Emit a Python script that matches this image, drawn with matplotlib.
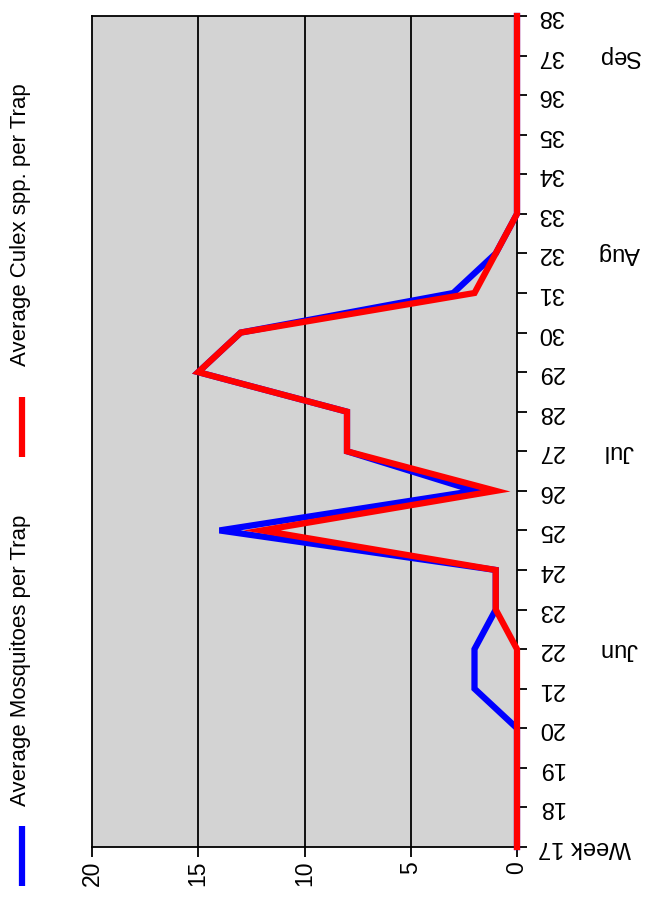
import matplotlib
matplotlib.use("Agg")
import matplotlib.pyplot as plt
from matplotlib.lines import Line2D

plt.rcParams['font.family'] = ['Liberation Sans', 'DejaVu Sans']

weeks = list(range(17, 39))
week_labels = ["Week 17"] + [str(w) for w in range(18, 39)]
mosquitoes = [0, 0, 0, 0, 2, 2, 1, 1, 14, 2, 8, 8, 15, 13, 3, 1, 0, 0, 0, 0, 0, 0]
culex = [0, 0, 0, 0, 0, 0, 1, 1, 12, 1, 8, 8, 15, 13, 2, 1, 0, 0, 0, 0, 0, 0]
months = ["Jun", "Jul", "Aug", "Sep"]
month_weeks = [22, 27, 32, 37]
value_ticks = [0, 5, 10, 15, 20]

W, H = 647, 905
fig = plt.figure(figsize=(W / 100, H / 100), dpi=100)
ax = fig.add_axes([92 / W, 1 - 847 / H, 425 / W, 831 / H])
ax.set_facecolor("#d3d3d3")

# chart is drawn turned on its side: values run right-to-left, weeks bottom-to-top
for v in value_ticks[1:-1]:
    ax.axvline(v, color="black", lw=1.3, zorder=1)
ax.plot(mosquitoes, weeks, color="#0000ff", lw=4.5, solid_joinstyle="miter", zorder=3, clip_on=False)
ax.plot(culex, weeks, color="#ff0000", lw=4.5, solid_joinstyle="miter", zorder=4, clip_on=False)

ax.set_xlim(20, 0)
ax.set_ylim(17, 38)
ax.set_xticks(value_ticks)
ax.set_xticklabels([str(v) for v in value_ticks], rotation=90, fontsize=16.5)
ax.yaxis.tick_right()
ax.set_yticks(weeks)
ax.set_yticklabels(week_labels, rotation=180, fontsize=17, va="center", ha="left")
ax.tick_params(axis="both", length=7, width=1.3, color="black")
ax.tick_params(axis="x", pad=3)
ax.tick_params(axis="y", pad=8)
for s in ax.spines.values():
    s.set_linewidth(1.3)

for m, w in zip(months, month_weeks):
    ax.text(1.24, (w - 17) / 21, m, transform=ax.transAxes, rotation=180,
            fontsize=17, ha="center", va="center")

# legend, turned like the rest
fig.add_artist(Line2D([22 / W, 22 / W], [1 - 886 / H, 1 - 826 / H], color="#0000ff", lw=4.5,
                      solid_capstyle="butt", transform=fig.transFigure))
fig.add_artist(Line2D([22 / W, 22 / W], [1 - 457 / H, 1 - 397 / H], color="#ff0000", lw=4.5,
                      solid_capstyle="butt", transform=fig.transFigure))
fig.text(21 / W, 1 - 806 / H, "Average Mosquitoes per Trap", rotation=90, fontsize=16,
         ha="center", va="bottom")
fig.text(21 / W, 1 - 366 / H, "Average Culex spp. per Trap", rotation=90, fontsize=16,
         ha="center", va="bottom")

fig.savefig("out.png", dpi=100)
